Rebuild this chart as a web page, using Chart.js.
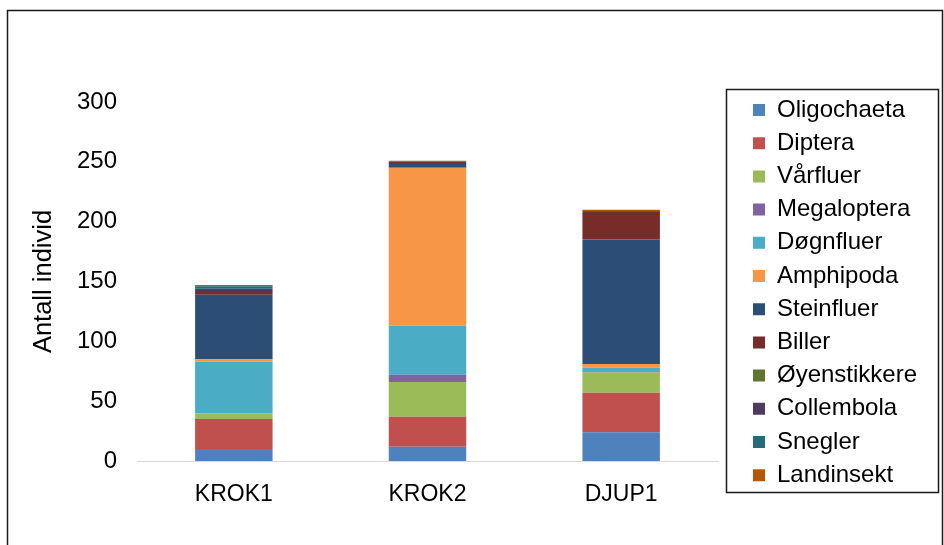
<!DOCTYPE html>
<html>
<head>
<meta charset="utf-8">
<script src="https://cdn.jsdelivr.net/npm/chart.js@4"></script>
<style>
  html, body { margin: 0; padding: 0; background: #fff; }
  #wrap { width: 944px; height: 545px; }
</style>
</head>
<body>
<div id="wrap"><canvas id="c" width="944" height="545"></canvas></div>
<script>
// Sampling stations
const stations = ['KROK1', 'KROK2', 'DJUP1'];

// Number of individuals per group and station (stacked bottom to top)
const oligochaeta  = [10, 12, 24];
const diptera      = [25, 25, 33];
const varfluer     = [5, 29, 17];
const megaloptera  = [0, 6, 1];
const dognfluer    = [43, 41, 3];
const amphipoda    = [2, 132, 3];
const steinfluer   = [54, 4, 104];
const biller       = [3, 1, 23];
const oyenstikkere = [0, 1, 0];
const collembola   = [2, 0, 0];
const snegler      = [2, 0, 1];
const landinsekt   = [1, 0, 1];

const yTicks = [0, 50, 100, 150, 200, 250, 300];

const FONT = "'Liberation Sans', Arial, sans-serif";

const series = [
  ['Oligochaeta', oligochaeta, '#4F81BD'],
  ['Diptera', diptera, '#C0504D'],
  ['Vårfluer', varfluer, '#9BBB59'],
  ['Megaloptera', megaloptera, '#8064A2'],
  ['Døgnfluer', dognfluer, '#4BACC6'],
  ['Amphipoda', amphipoda, '#F79646'],
  ['Steinfluer', steinfluer, '#2C4D75'],
  ['Biller', biller, '#772C2A'],
  ['Øyenstikkere', oyenstikkere, '#5F7530'],
  ['Collembola', collembola, '#4D3B62'],
  ['Snegler', snegler, '#276A7C'],
  ['Landinsekt', landinsekt, '#B65708']
];

const datasets = series.map(([label, data, color]) => ({
  label, data,
  backgroundColor: color,
  borderColor: color,
  borderWidth: 0,
  categoryPercentage: 0.8,
  barPercentage: 0.5
}));

// Frame around the figure, white background and a framed legend
const framePlugin = {
  id: 'frame',
  afterInit(chart) {
    const lg = chart.legend;
    const fit = lg.fit;
    lg.fit = function () {
      fit.call(this);
      if (this.options.display) this.width = 226;
    };
  },
  afterLayout(chart) {
    const lg = chart.legend;
    const w = lg.width, h = lg.height;
    lg.left = 743.8; lg.right = lg.left + w;
    lg.top = 88.8; lg.bottom = lg.top + h;
  },
  beforeDraw(chart) {
    const ctx = chart.ctx;
    ctx.save();
    ctx.fillStyle = '#fff';
    ctx.fillRect(0, 0, chart.width, chart.height);
    ctx.restore();
  },
  afterDraw(chart) {
    const ctx = chart.ctx;
    ctx.save();
    ctx.strokeStyle = '#1a1a1a';
    ctx.lineWidth = 1.5;
    ctx.strokeRect(7.5, 10.5, 935, 560);
    ctx.strokeRect(726.5, 89.5, 212, 403);
    ctx.restore();
  }
};

new Chart(document.getElementById('c'), {
  type: 'bar',
  data: { labels: stations, datasets },
  plugins: [framePlugin],
  options: {
    responsive: false,
    animation: false,
    devicePixelRatio: 1,
    layout: { padding: { left: 0, right: 0, top: 102, bottom: 0 } },
    plugins: {
      tooltip: { enabled: false },
      legend: {
        display: true,
        position: 'right',
        align: 'start',
        labels: {
          boxWidth: 12,
          boxHeight: 12,
          padding: 9.2,
          color: '#000',
          font: { family: FONT, size: 24 }
        }
      }
    },
    scales: {
      x: {
        stacked: true,
        grid: { display: false, drawTicks: false },
        border: { display: true, color: '#d9d9d9', width: 1 },
        ticks: { color: '#000', padding: 20, font: { family: FONT, size: 23 } },
        afterFit(scale) { scale.height = 84; }
      },
      y: {
        stacked: true,
        min: 0,
        max: 300,
        grid: { display: false, drawTicks: false },
        border: { display: false },
        afterBuildTicks(scale) { scale.ticks = yTicks.map(v => ({ value: v })); },
        ticks: { color: '#000', padding: 20, font: { family: FONT, size: 24 } },
        title: {
          display: true,
          text: 'Antall individ',
          color: '#000',
          font: { family: FONT, size: 25.5 },
          padding: { top: 28.5, bottom: 0 }
        },
        afterFit(scale) { scale.width = 137; }
      }
    }
  }
});
</script>
</body>
</html>
